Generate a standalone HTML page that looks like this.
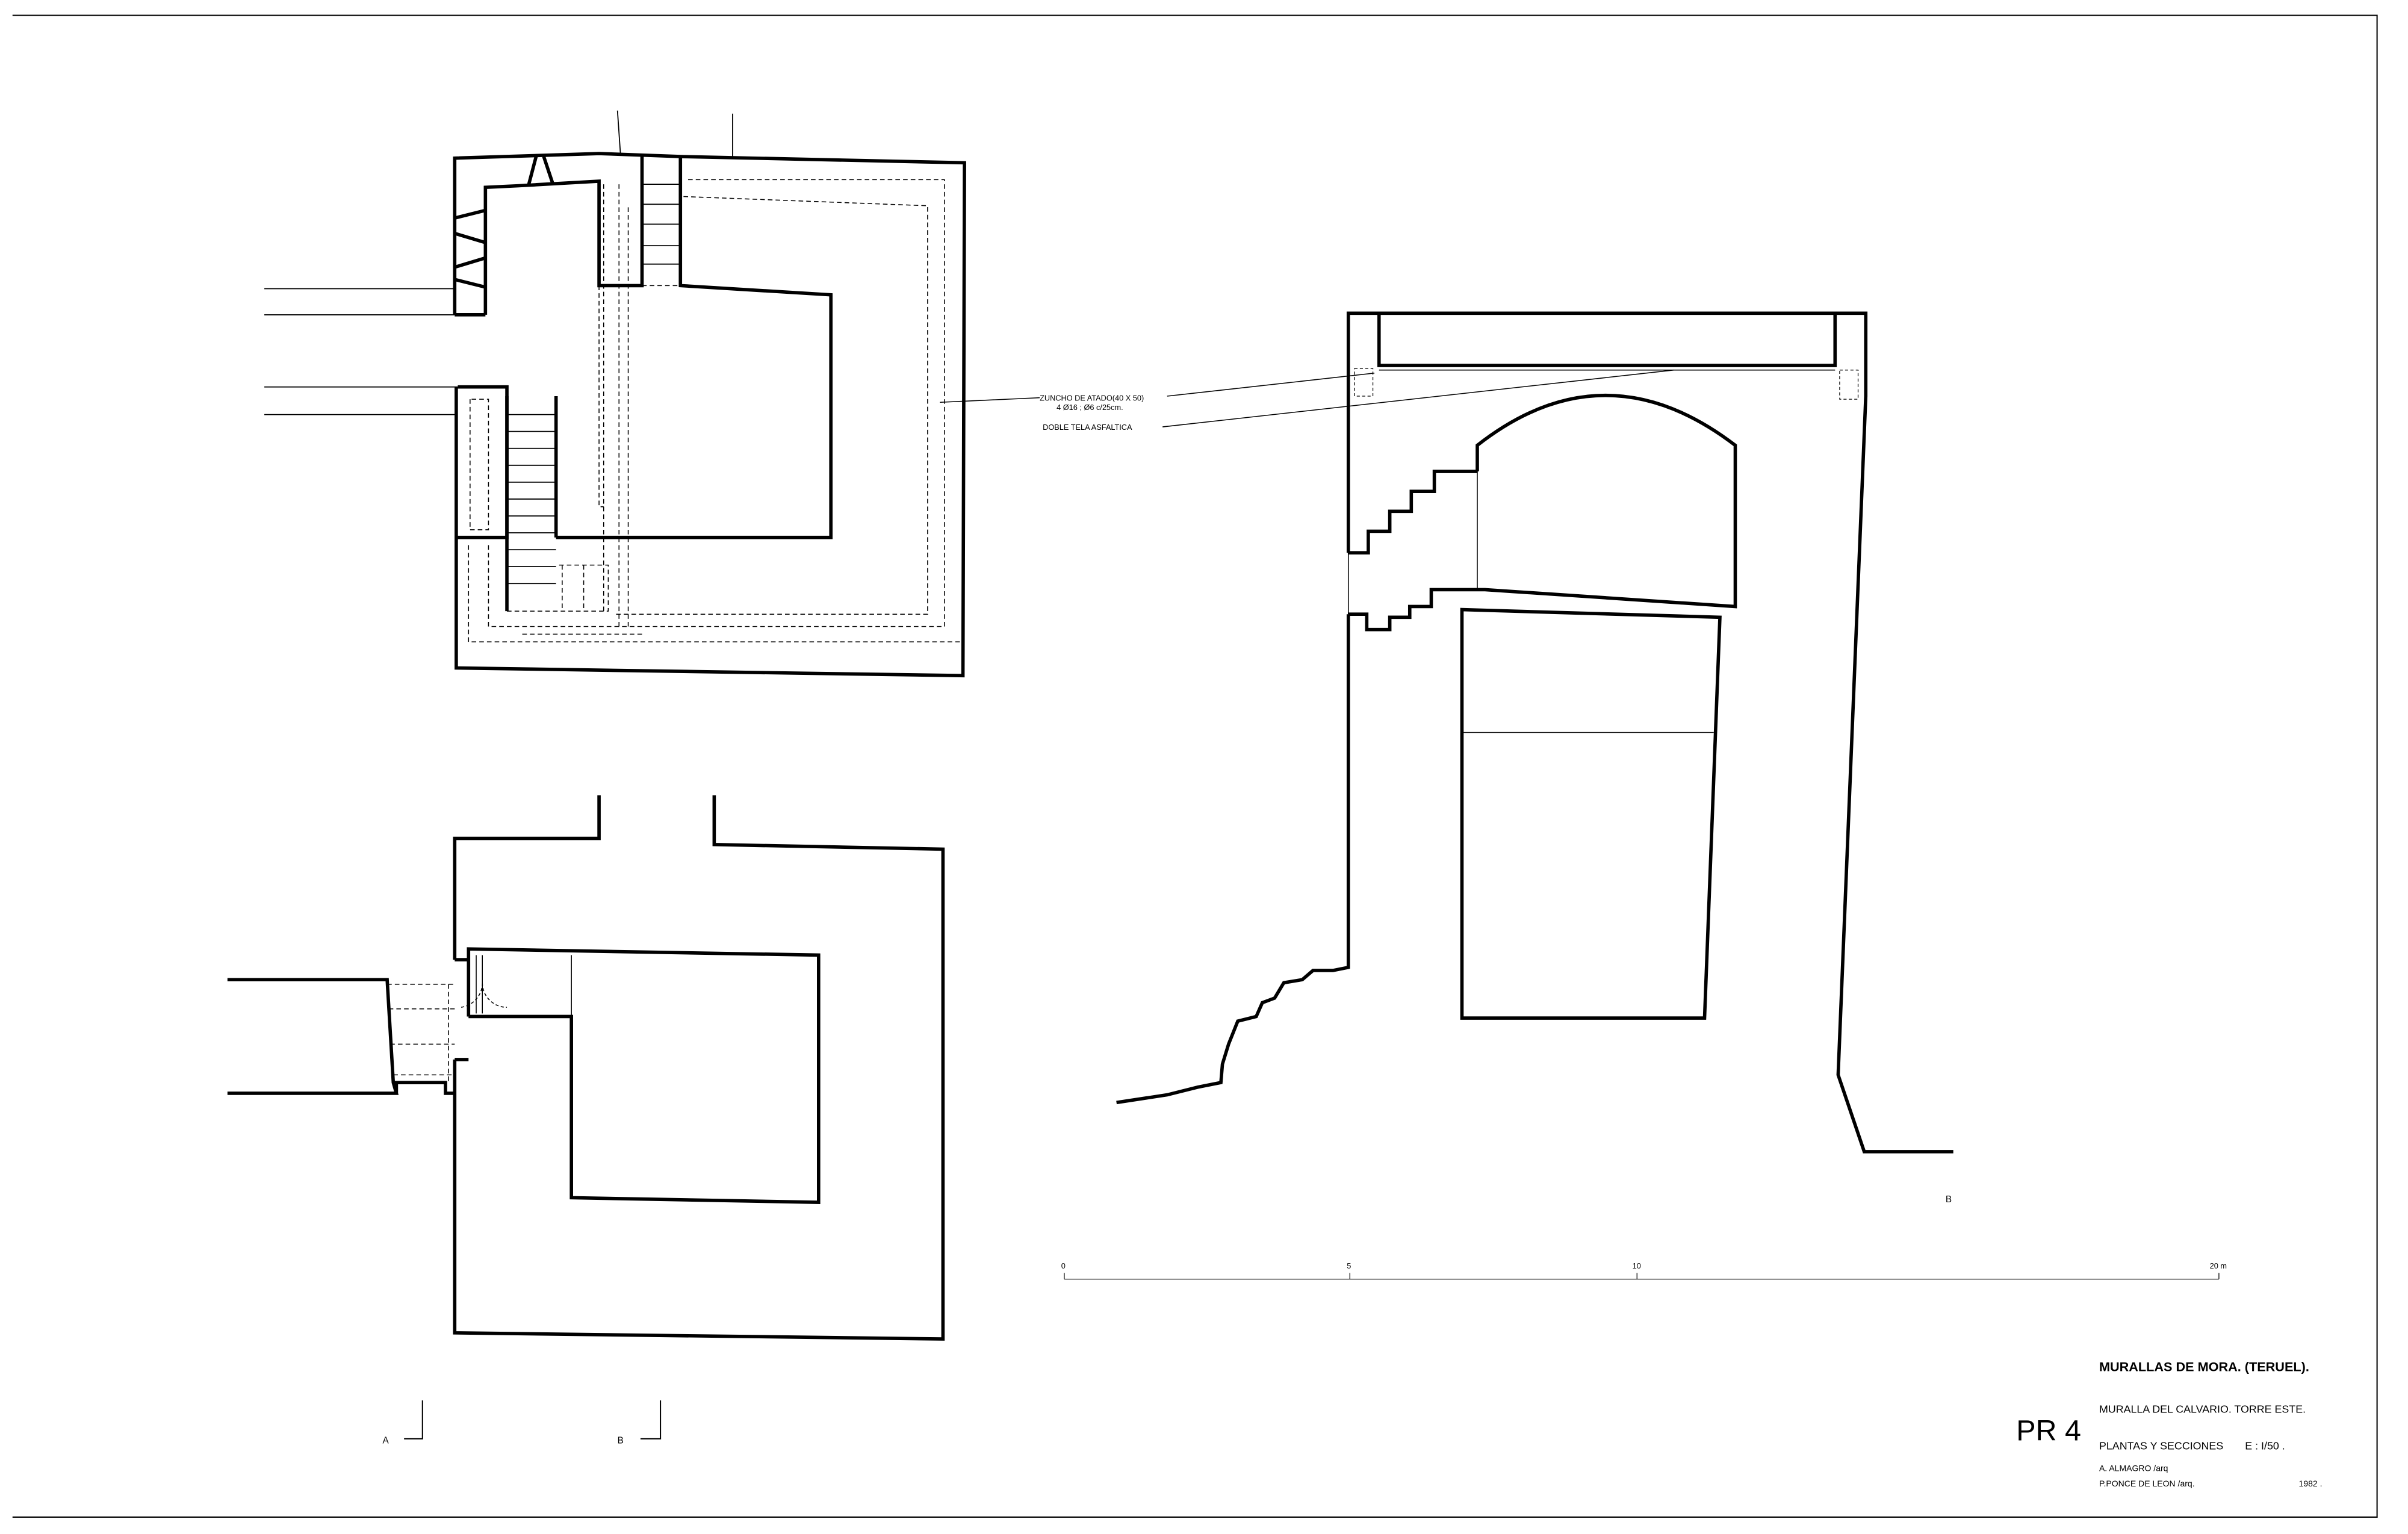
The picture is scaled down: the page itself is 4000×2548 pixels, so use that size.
<!DOCTYPE html>
<html><head><meta charset="utf-8"><style>
html,body{margin:0;padding:0;background:#fff;}
svg{display:block;}
text{font-family:"Liberation Sans",sans-serif;fill:#000;}
</style></head><body>
<svg width="4000" height="2548" viewBox="0 0 1568 999" xmlns="http://www.w3.org/2000/svg">
<rect width="1568" height="999" fill="#fff"/>
<g fill="none" stroke="#000" stroke-linejoin="miter">
<path d="M8 10 H1548 V988 H8" stroke-width="0.8"/>

<!-- ===== TOP PLAN ===== -->
<g stroke-width="2.2">
<path d="M296 205 V103 L390 100 L445 102 L628 106 L627 440 L297 435 V252"/>
<path d="M316 205 V122 L337 121 L390 118 V186 H418 V101"/>
<path d="M296 205 H316"/>
<path d="M443 102 V186 L541 192 V350 H362"/>
<path d="M298 252 H330 V350 H298"/>
<path d="M330 258 V398"/>
<path d="M362 258 V350"/>
<path d="M296 142 L316 137 M296 152 L316 158 M296 174 L316 168 M296 182 L316 187"/>
<path d="M349 102 L344 121 M354 102 L360 120"/>
</g>
<g stroke-width="0.7">
<path d="M172 188 H296 M172 205 H296 M172 252 H298 M172 270 H298"/>
<path d="M402 72 L404 101 M477 74 V103"/>
<path d="M418 120 H443 M418 133 H443 M418 146 H443 M418 160 H443 M418 172 H443"/>
<path d="M330 270 H362 M330 281 H362 M330 292 H362 M330 303 H362 M330 314 H362 M330 325 H362 M330 336 H362 M330 347 H362 M330 358 H362 M330 369 H362 M330 380 H362"/>
</g>
<g stroke-width="0.6" stroke-dasharray="3,2">
<path d="M306 260 V345 H318 V260 Z"/>
<path d="M305 355 V418 H627"/>
<path d="M318 355 V408 H615 V117 H446"/>
<path d="M445 128 L604 134 V400 H400"/>
<path d="M330 398 H396 V368 H362 M366 368 V398 M380 368 V398"/>
<path d="M390 186 V330 H393 M393 120 V400 M403 120 V408 M409 135 V410 M398 186 H418 M418 186 H443"/>
<path d="M340 413 H420"/>
</g>
<path d="M612 262 L677 259" stroke-width="0.6"/>

<!-- ===== BOTTOM PLAN ===== -->
<g stroke-width="2.2">
<path d="M296 625 V546 H390 V518 M465 518 V550 L614 553 V872 L296 868 V690"/>
<path d="M305 662 V618 L533 622 V783 L372 780 V662 H305"/>
<path d="M148 638 H252 L256 705 L258 712 H148"/>
<path d="M296 625 H305 M296 690 H305 M258 712 V705 H290 V712 H296"/>
</g>
<g stroke-width="0.6">
<path d="M310 622 V660 M314 622 V660"/>
<path d="M314 640 A16 16 0 0 0 330 656 M314 640 A16 16 0 0 1 300 656" stroke-dasharray="2,1.5"/>
<path d="M372 622 V662"/>
</g>
<g stroke-width="0.6" stroke-dasharray="3,2">
<path d="M252 641 H296 M253 657 H296 M254 680 H296 M256 700 H296 M292 641 V705"/>
</g>

<!-- ===== SECTION ===== -->
<g stroke-width="2.2">
<path d="M878 360 V204 H1215 V258 L1197 700 L1214 750 H1272"/>
<path d="M898 204 V238 H1195 V204"/>
<path d="M878 360 H891 V346 H905 V333 H919 V320 H934 V307 H962"/>
<path d="M962 307 V290 Q1045 225 1130 290 V395 L967 384 L932 384 V395 H918 V402 H905 V410 H890 V400 H878"/>
<path d="M878 400 V630 L868 632 L855 632 L848 638 L836 640 L830 650 L822 653 L818 662 L806 665 L800 680 L796 693 L795 705 L780 708 L760 713 L727 718"/>
<path d="M952 397 L1120 402 L1110 663 H952 Z"/>
</g>
<g stroke-width="0.6">
<path d="M898 241 H1195"/>
<path d="M962 307 V384 M878 360 V400"/>
<path d="M952 477 H1116"/>
<path d="M760 258 L895 243 M757 278 L1090 241"/>
</g>
<g stroke-width="0.5" stroke-dasharray="2,1.5">
<rect x="882" y="240" width="12" height="18"/>
<rect x="1198" y="241" width="12" height="19"/>
</g>

<path d="M693 833 H1445 M693 829 V833 M879 829 V833 M1066 829 V833 M1445 829 V833" stroke-width="0.5"/>
<path d="M263 937 H275 V912 M417 937 H430 V912" stroke-width="0.8"/>
</g>

<g font-size="5">
<text x="677" y="261">ZUNCHO DE ATADO(40 X 50)</text>
<text x="688" y="267">4 Ø16 ; Ø6 c/25cm.</text>
<text x="679" y="280">DOBLE TELA ASFALTICA</text>
<text x="691" y="826">0</text>
<text x="877" y="826">5</text>
<text x="1063" y="826">10</text>
<text x="1439" y="826">20 m</text>
</g>
<text x="1267" y="783" font-size="6">B</text>
<text x="249" y="940" font-size="6">A</text>
<text x="402" y="940" font-size="6">B</text>
<text x="1367" y="893" font-size="8.5" font-weight="bold">MURALLAS DE MORA. (TERUEL).</text>
<text x="1367" y="920" font-size="7">MURALLA DEL CALVARIO. TORRE ESTE.</text>
<text x="1367" y="944" font-size="7">PLANTAS Y SECCIONES</text>
<text x="1462" y="944" font-size="7">E : I/50 .</text>
<text x="1367" y="958" font-size="5.5">A. ALMAGRO /arq</text>
<text x="1367" y="968" font-size="5.5">P.PONCE  DE  LEON /arq.</text>
<text x="1497" y="968" font-size="5.5">1982 .</text>
<text x="1313" y="938" font-size="19">PR 4</text>
</svg>
</body></html>
